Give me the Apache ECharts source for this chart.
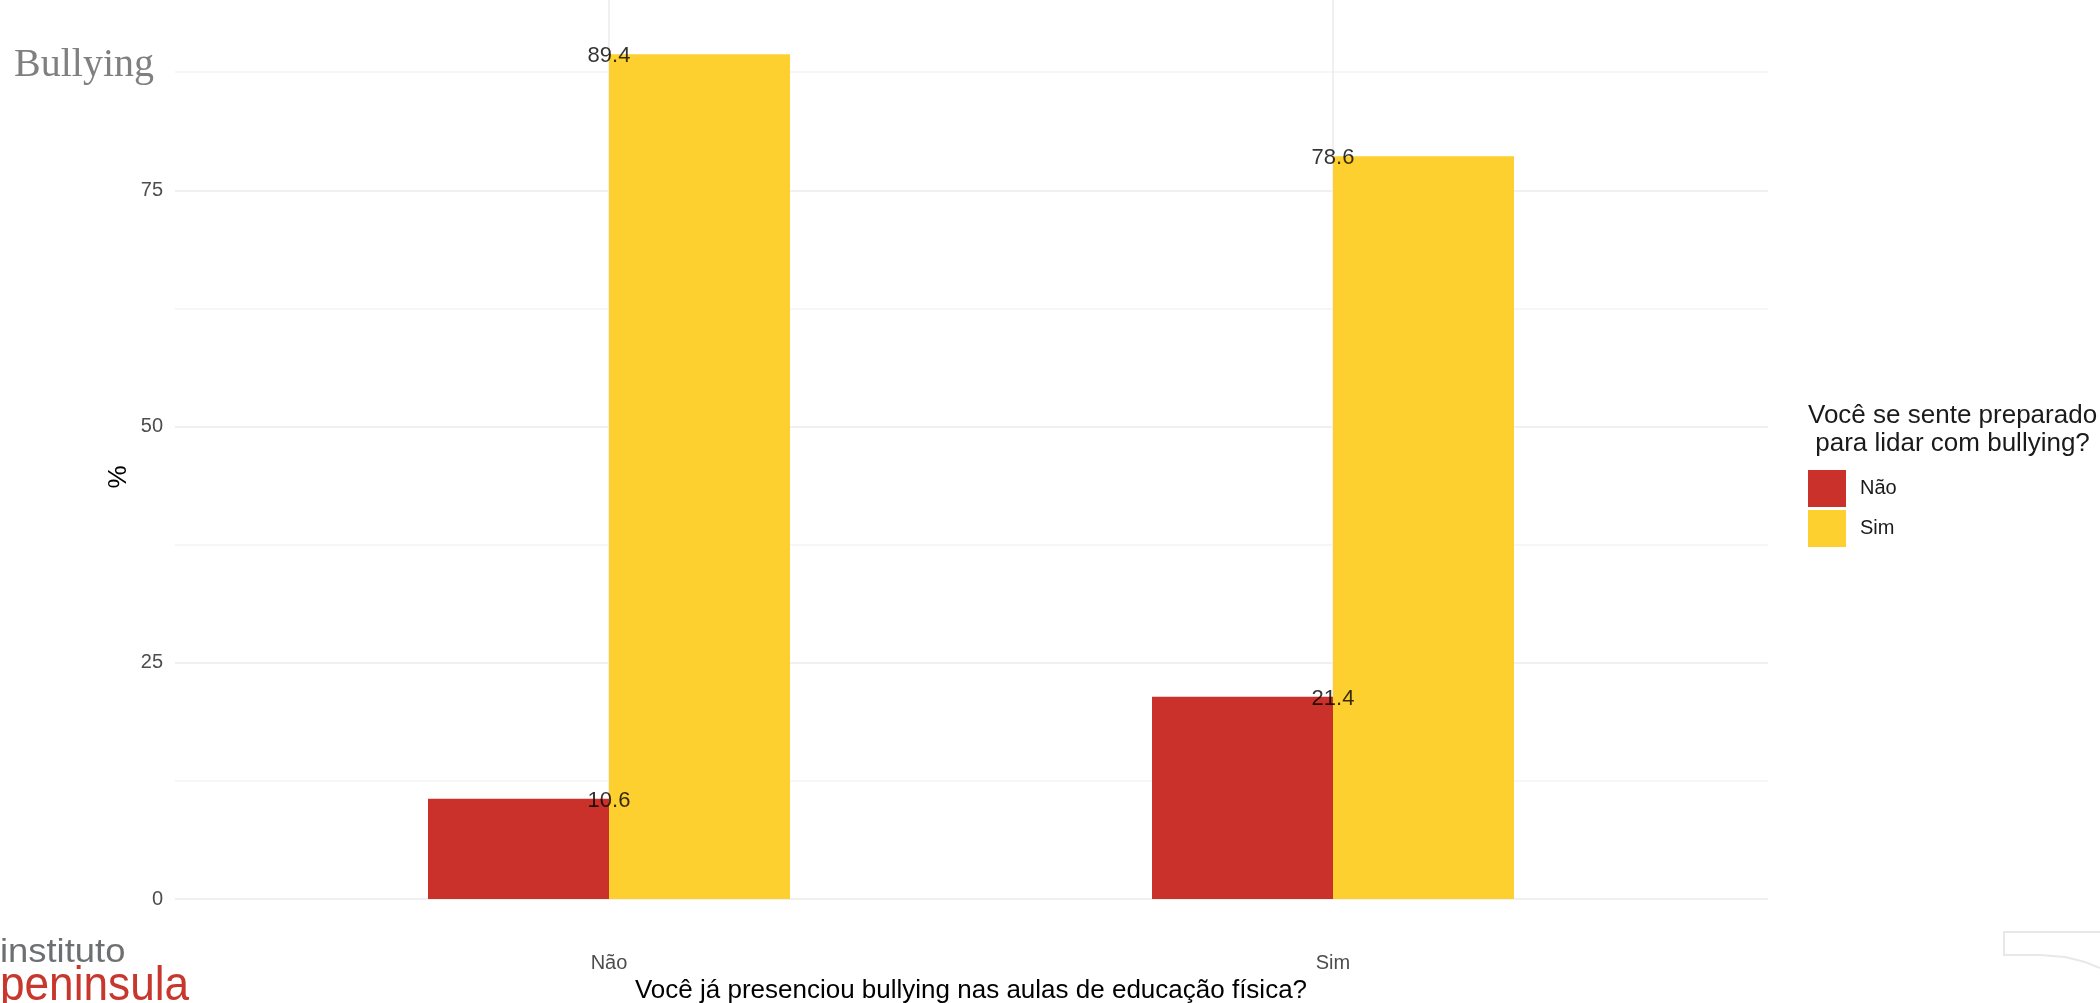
<!DOCTYPE html>
<html>
<head>
<meta charset="utf-8">
<script src="https://cdn.jsdelivr.net/npm/echarts@6/dist/echarts.min.js"></script>
<style>
html,body{margin:0;padding:0;background:#fff;}
#chart{width:2100px;height:1003px;}
</style>
</head>
<body>
<div id="chart"></div>
<script>
// ---- data ----
const categories = ['Não', 'Sim'];          // x axis: "Você já presenciou bullying..."
const groupNames = ['Não', 'Sim'];          // legend: "Você se sente preparado..."
const valuesNao = [10.6, 21.4];
const valuesSim = [89.4, 78.6];
const yTickLabels = [0, 25, 50, 75];

const titleText = 'Bullying';
const xTitle = 'Você já presenciou bullying nas aulas de educação física?';
const yTitle = '%';
const legendTitle = 'Você se sente preparado\n para lidar com bullying?';

const FONT = 'Liberation Sans, Arial, sans-serif';
const colors = ['#C9312A', '#FED02F'];

// data-label points (centred on each category, at the value)
const labelPoints = [];
categories.forEach((c, i) => {
  labelPoints.push([c, valuesNao[i]]);
  labelPoints.push([c, valuesSim[i]]);
});

const chart = echarts.init(document.getElementById('chart'), null, {renderer: 'canvas'});

const option = {
  backgroundColor: '#ffffff',
  animation: false,
  grid: [
    {left: 175, right: 332, top: 12, bottom: 104, containLabel: false, outerBoundsMode: 'none'},
    {left: 247, right: 405, top: 12, bottom: 61, containLabel: false, outerBoundsMode: 'none'}
  ],
  xAxis: [
    {gridIndex: 0, type: 'category', data: categories, show: false},
    {
      gridIndex: 1, type: 'category', data: categories,
      axisLine: {show: false},
      axisTick: {show: true, alignWithLabel: true, inside: true, length: 930,
                 lineStyle: {color: '#EBEBEB', width: 1.5}},
      axisLabel: {color: '#4D4D4D', fontSize: 20, margin: 11, fontFamily: FONT},
      splitLine: {show: false},
      name: xTitle, nameLocation: 'middle', nameGap: 35,
      nameTextStyle: {color: '#000', fontSize: 26, fontFamily: FONT}
    }
  ],
  yAxis: [
    {
      gridIndex: 0, type: 'value', min: 0, max: 93.87, interval: 12.5,
      axisLine: {show: false}, axisTick: {show: false},
      axisLabel: {
        color: '#4D4D4D', fontSize: 20, margin: 12, fontFamily: FONT,
        showMaxLabel: false,
        formatter: v => (yTickLabels.indexOf(v) >= 0 ? String(v) : '')
      },
      splitLine: {show: true, showMaxLine: false,
                  lineStyle: {color: ['#EBEBEB', '#F3F3F3'], width: 1.5}}
    },
    {
      gridIndex: 1, type: 'value', min: -4.55, max: 93.87,
      axisLine: {show: false}, axisTick: {show: false}, axisLabel: {show: false},
      splitLine: {show: false},
      name: yTitle, nameLocation: 'middle', nameGap: 115,
      nameTextStyle: {color: '#000', fontSize: 26, fontFamily: FONT}
    }
  ],
  legend: {
    data: groupNames,
    orient: 'vertical',
    left: 1808, top: 470,
    padding: 0,
    itemWidth: 38, itemHeight: 37, itemGap: 3,
    icon: 'rect',
    selectedMode: false,
    textStyle: {color: '#1A1A1A', fontSize: 20, fontFamily: FONT, padding: [0, 0, 0, 9]}
  },
  series: [
    {
      name: groupNames[0], type: 'bar', xAxisIndex: 1, yAxisIndex: 1,
      data: valuesNao, barWidth: 181, barGap: '0%',
      itemStyle: {color: colors[0]}, silent: true
    },
    {
      name: groupNames[1], type: 'bar', xAxisIndex: 1, yAxisIndex: 1,
      data: valuesSim, barWidth: 181, barGap: '0%',
      itemStyle: {color: colors[1]}, silent: true
    },
    {
      type: 'scatter', xAxisIndex: 1, yAxisIndex: 1, z: 5, silent: true,
      data: labelPoints, symbolSize: 1,
      itemStyle: {color: 'rgba(0,0,0,0)'},
      label: {
        show: true, position: 'inside', offset: [0, 2], color: '#000', fontSize: 22, fontFamily: FONT,
        formatter: p => p.value[1].toFixed(1)
      }
    }
  ],
  graphic: [
    {
      type: 'text', left: 14, top: 45, silent: true,
      style: {text: titleText, fill: '#808080', font: '40px "Liberation Serif", "DejaVu Serif", serif'}
    },
    {
      type: 'text', left: 1808, top: 402, silent: true,
      style: {text: legendTitle, fill: '#1A1A1A', fontSize: 26, fontFamily: FONT, lineHeight: 28}
    },
    {
      type: 'text', x: 0, y: 936, scaleX: 1.07, silent: true,
      style: {text: 'instituto', fill: '#6E6F71', font: '34px "Liberation Sans", Arial, sans-serif', textVerticalAlign: 'top'}
    },
    {
      type: 'text', x: 0, y: 963, scaleX: 0.92, silent: true,
      style: {text: 'peninsula', fill: '#C8372D', font: '48px "Liberation Sans", Arial, sans-serif', textVerticalAlign: 'top'}
    },
    {
      type: 'polyline', silent: true,
      shape: {points: [[2100, 932], [2004, 932], [2004, 955], [2040, 955], [2065, 957], [2085, 962], [2100, 968]]},
      style: {stroke: '#E8E8E8', lineWidth: 2, fill: null}
    }
  ]
};

chart.setOption(option);
</script>
</body>
</html>
